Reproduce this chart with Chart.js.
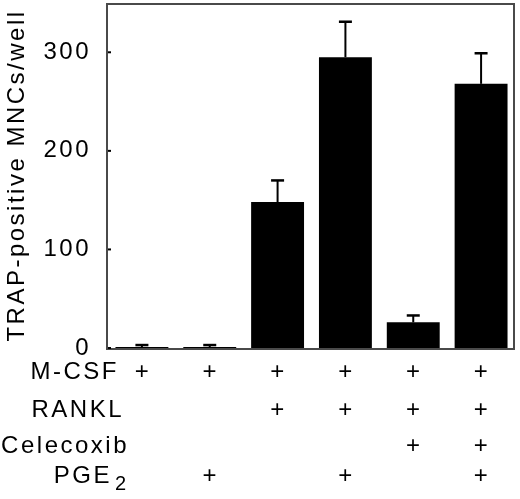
<!DOCTYPE html>
<html>
<head>
<meta charset="utf-8">
<script src="https://cdn.jsdelivr.net/npm/chart.js@4"></script>
<style>
  html, body { margin: 0; padding: 0; background: #fff; }
  #wrap { width: 520px; height: 499px; position: relative; }
</style>
</head>
<body>
<div id="wrap"><canvas id="c"></canvas></div>
<script>
// ---- data ----
const categories = ['1', '2', '3', '4', '5', '6'];
const values = [1, 1, 148, 295, 26, 268];
const errors = [2, 2, 22, 36, 7, 31];
const yTicks = [0, 100, 200, 300];
const yTitle = 'TRAP-positive MNCs/well';
const rowNames = ['M-CSF', 'RANKL', 'Celecoxib', 'PGE'];
const mcsf = [1, 1, 1, 1, 1, 1];
const rankl = [0, 0, 1, 1, 1, 1];
const celecoxib = [0, 0, 0, 0, 1, 1];
const pge2 = [0, 1, 0, 1, 0, 1];

const FONT = 'Liberation Sans, Arial, sans-serif';
const SPACING = '2.5px';

const spacingPlugin = {
  id: 'spacing',
  beforeUpdate(chart) { chart.ctx.letterSpacing = SPACING; },
  beforeLayout(chart) { chart.ctx.letterSpacing = SPACING; },
  beforeDraw(chart) { chart.ctx.letterSpacing = SPACING; }
};

const decorPlugin = {
  id: 'decor',
  afterDatasetsDraw(chart) {
    const ctx = chart.ctx;
    const ys = chart.scales.y;
    const xs = chart.scales.x;
    const meta = chart.getDatasetMeta(0);
    const a = chart.chartArea;
    ctx.save();
    // error bars
    ctx.strokeStyle = '#000';
    meta.data.forEach((bar, i) => {
      const x = bar.x;
      const yb = ys.getPixelForValue(values[i]);
      const yt = ys.getPixelForValue(values[i] + errors[i]);
      ctx.lineWidth = 2;
      ctx.beginPath(); ctx.moveTo(x, yb); ctx.lineTo(x, yt); ctx.stroke();
      ctx.lineWidth = 2.5;
      ctx.beginPath(); ctx.moveTo(x - 6.5, yt); ctx.lineTo(x + 6.5, yt); ctx.stroke();
    });
    // frame
    ctx.strokeStyle = '#4a4a4a';
    ctx.lineWidth = 2;
    ctx.strokeRect(a.left - 1, a.top + 1, a.right - a.left, a.bottom - a.top);
    // inward tick marks
    ctx.strokeStyle = '#000';
    ctx.lineWidth = 2;
    yTicks.forEach(v => {
      const y = ys.getPixelForValue(v);
      ctx.beginPath(); ctx.moveTo(a.left, y); ctx.lineTo(a.left + 3, y); ctx.stroke();
    });
    // treatment table
    ctx.letterSpacing = SPACING;
    ctx.fillStyle = '#000';
    ctx.font = '24px ' + FONT;
    ctx.textBaseline = 'middle';
    const rows = [mcsf, rankl, celecoxib, pge2];
    const rowY = [372, 410, 446, 476];
    const rowRight = [119, 124, 129, 112];
    rows.forEach((r, k) => {
      ctx.textAlign = 'right';
      ctx.fillText(rowNames[k], rowRight[k], rowY[k]);
      ctx.textAlign = 'center';
      r.forEach((on, i) => {
        if (on) ctx.fillText('+', xs.getPixelForValue(i) + 1, rowY[k]);
      });
    });
    // subscript 2 of PGE2
    ctx.textAlign = 'left';
    ctx.font = '20px ' + FONT;
    ctx.fillText('2', 115, 484);
    ctx.restore();
  }
};

new Chart(document.getElementById('c'), {
  type: 'bar',
  data: {
    labels: categories,
    datasets: [{
      data: values,
      backgroundColor: '#000',
      borderWidth: 0,
      barPercentage: 0.78,
      categoryPercentage: 1.0
    }]
  },
  options: {
    responsive: true,
    maintainAspectRatio: false,
    animation: false,
    layout: { padding: { top: 3, right: 5, bottom: 151, left: 0 } },
    plugins: { legend: { display: false }, tooltip: { enabled: false } },
    scales: {
      x: { display: false },
      y: {
        min: 0, max: 350,
        afterFit(s) { s.width = 108; s.paddingTop = 0; s.paddingBottom = 0; },
        afterBuildTicks(s) { s.ticks = yTicks.map(v => ({ value: v })); },
        grid: { display: false },
        border: { display: false },
        ticks: { color: '#000', font: { family: FONT, size: 24 }, padding: 9 },
        title: {
          display: true, text: yTitle, color: '#000',
          font: { family: FONT, size: 24 },
          padding: { top: 3, bottom: 0 }
        }
      }
    }
  },
  plugins: [spacingPlugin, decorPlugin]
});
</script>
</body>
</html>
